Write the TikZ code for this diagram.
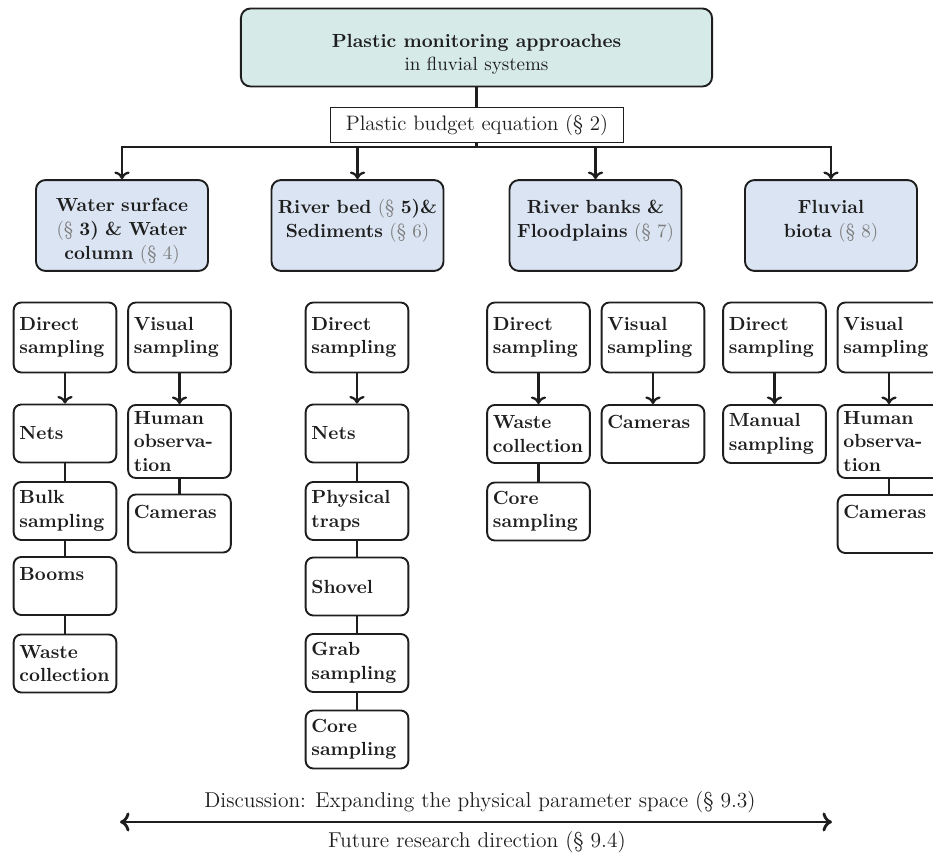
\documentclass[tikz,border=0pt]{standalone}
\definecolor{topteal}{RGB}{214, 234, 232}
\definecolor{catblue}{RGB}{218, 228, 242}
\definecolor{inkgray}{RGB}{30, 30, 30}
\definecolor{refgray}{RGB}{125, 125, 125}
\usetikzlibrary{arrows.meta, positioning}
\newcommand{\secref}[1]{\textcolor{refgray}{\textmd{(\S~#1)}}}
\newcommand{\boldref}[1]{\textcolor{refgray}{\textmd{(\S}}~#1)}
\newcommand{\midsize}{\fontsize{11}{13.6}\selectfont}

\begin{document}
\begin{tikzpicture}[x=0.526pt, y=-0.526pt,
  every node/.style={text=inkgray},
  rootbox/.style={draw=inkgray, fill=topteal, line width=1pt, rounded corners=5pt, minimum width=247.8pt, minimum height=41pt, align=center},
  budgetbox/.style={draw=inkgray, fill=white, line width=0.5pt, minimum width=154.6pt, minimum height=18.4pt, font=\midsize},
  catbox/.style={draw=inkgray, fill=catblue, line width=1pt, rounded corners=5pt, minimum width=90.5pt, minimum height=47.8pt, text width=86pt, inner xsep=2pt, align=center, font=\fontsize{10}{12.6}\selectfont\bfseries},
  methodbox/.style={draw=inkgray, fill=white, line width=1pt, rounded corners=4pt, text width=48pt, inner xsep=3pt, minimum height=36.8pt, align=left, font=\fontsize{10}{12.4}\selectfont\bfseries},
  leafbox/.style={methodbox, minimum height=30.5pt},
  link/.style={draw=inkgray, line width=1.2pt},
  branch/.style={link, -{To[length=4pt, width=8pt]}},
  span/.style={draw=inkgray, line width=1.5pt, {To[length=5pt, width=10pt]}-{To[length=5pt, width=10pt]}},
]
\useasboundingbox (0,0) rectangle (933,853);

% header
\node[rootbox] (root) at (476.5,47.5) {\rule{0pt}{14pt}\textbf{Plastic monitoring approaches}\\in fluvial systems};
\coordinate (busy) at (0,147);
\draw[link] (root.south) -- (root.south |- busy);
\node[budgetbox] (budget) at (477,125) {Plastic budget equation (\S~2)};

% compartments
\node[catbox] (surf)  at (122,225.5)   {\rule{0pt}{13pt}Water surface\\\boldref{3} \& Water\\column \secref{4}};
\node[catbox] (bed)   at (357.5,225.5) {\rule{0pt}{13pt}River bed \boldref{5}\&\\Sediments \secref{6}\\~};
\node[catbox] (bank)  at (595.5,225.5) {\rule{0pt}{13pt}River banks \&\\Floodplains \secref{7}\\~};
\node[catbox] (biota) at (831,225.5)   {\rule{0pt}{13pt}Fluvial\\biota \secref{8}\\~};

\foreach \cat in {surf, bed, bank, biota}
  \draw[branch] (root.south |- busy) -| (\cat.north);

% water surface & column
\node[methodbox] (surfdir)   at (65,337.5)  {Direct\\sampling};
\node[leafbox]   (surfnets)  at (65,433.5)  {Nets};
\node[leafbox]   (surfbulk)  at (65,511)    {Bulk\\sampling};
\node[leafbox]   (surfbooms) at (65,586)    {Booms\\~};
\node[leafbox]   (surfwaste) at (65,663.5)  {Waste\\collection};
\node[methodbox] (surfvis)   at (179.5,337.5) {Visual\\sampling};
\node[leafbox]   (surfhuman) at (179.5,441.5) {Human\\observa-\\tion};
\node[leafbox]   (surfcam)   at (179.5,523.5) {Cameras\\~};

% river bed & sediments
\node[methodbox] (beddir)    at (357,337.5) {Direct\\sampling};
\node[leafbox]   (bednets)   at (357,433.5) {Nets};
\node[leafbox]   (bedtraps)  at (357,511)   {Physical\\traps};
\node[leafbox]   (bedshovel) at (357,586.5) {Shovel};
\node[leafbox]   (bedgrab)   at (357,663)   {Grab\\sampling};
\node[leafbox]   (bedcore)   at (357,739.5) {Core\\sampling};

% river banks & floodplains
\node[methodbox] (bankdir)   at (538.5,337.5) {Direct\\sampling};
\node[leafbox]   (bankwaste) at (538.5,434)   {Waste\\collection};
\node[leafbox]   (bankcore)  at (538.5,511.5) {Core\\sampling};
\node[methodbox] (bankvis)   at (653,337.5)   {Visual\\sampling};
\node[leafbox]   (bankcam)   at (653,434)     {Cameras\\~};

% fluvial biota
\node[methodbox] (biotadir)    at (774.5,337.5) {Direct\\sampling};
\node[leafbox]   (biotamanual) at (774.5,434)   {Manual\\sampling};
\node[methodbox] (biotavis)    at (889,337.5)   {Visual\\sampling};
\node[leafbox]   (biotahuman)  at (889,441.5)   {Human\\observa-\\tion};
\node[leafbox]   (biotacam)    at (889,524)     {Cameras\\~};

\foreach \a/\b in {surfdir/surfnets, surfvis/surfhuman, beddir/bednets, bankdir/bankwaste,
                   bankvis/bankcam, biotadir/biotamanual, biotavis/biotahuman}
  \draw[branch] (\a) -- (\b);
\foreach \a/\b in {surfnets/surfbulk, surfbulk/surfbooms, surfbooms/surfwaste, surfhuman/surfcam,
                   bednets/bedtraps, bedtraps/bedshovel, bedshovel/bedgrab, bedgrab/bedcore,
                   bankwaste/bankcore, biotahuman/biotacam}
  \draw[link] (\a) -- (\b);

% outlook
\node[font=\fontsize{11.3}{13.6}\selectfont] (discuss) at (480,802) {Discussion: Expanding the physical parameter space (\S~9.3)};
\coordinate (spanL) at (120,822);
\coordinate (spanR) at (832,822);
\draw[span] (spanL) -- (spanR);
\node[font=\fontsize{11.3}{13.6}\selectfont] (future) at (477,842) {Future research direction (\S~9.4)};
\end{tikzpicture}
\end{document}
